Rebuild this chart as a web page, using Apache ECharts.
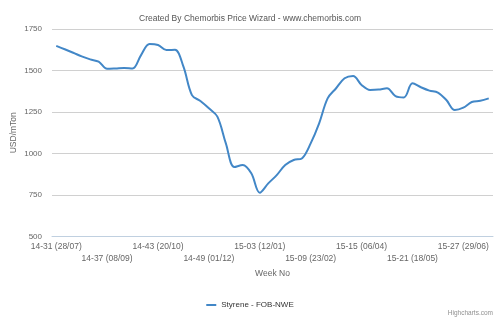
<!DOCTYPE html>
<html>
<head>
<meta charset="utf-8">
<script src="https://cdn.jsdelivr.net/npm/echarts@6/dist/echarts.min.js"></script>
<style>html,body{margin:0;padding:0;background:#fff}#c{width:500px;height:320px}</style>
</head>
<body>
<div id="c"></div>
<script>
const weeks = [
 "14-31 (28/07)","14-32 (04/08)","14-33 (11/08)","14-34 (18/08)","14-35 (25/08)","14-36 (01/09)",
 "14-37 (08/09)","14-38 (15/09)","14-39 (22/09)","14-40 (29/09)","14-41 (06/10)","14-42 (13/10)",
 "14-43 (20/10)","14-44 (27/10)","14-45 (03/11)","14-46 (10/11)","14-47 (17/11)","14-48 (24/11)",
 "14-49 (01/12)","14-50 (08/12)","14-51 (15/12)","14-52 (22/12)","15-01 (29/12)","15-02 (05/01)",
 "15-03 (12/01)","15-04 (19/01)","15-05 (26/01)","15-06 (02/02)","15-07 (09/02)","15-08 (16/02)",
 "15-09 (23/02)","15-10 (02/03)","15-11 (09/03)","15-12 (16/03)","15-13 (23/03)","15-14 (30/03)",
 "15-15 (06/04)","15-16 (13/04)","15-17 (20/04)","15-18 (27/04)","15-19 (04/05)","15-20 (11/05)",
 "15-21 (18/05)","15-22 (25/05)","15-23 (01/06)","15-24 (08/06)","15-25 (15/06)","15-26 (22/06)",
 "15-27 (29/06)","15-28 (06/07)","15-29 (13/07)","15-30 (20/07)"
];
const styreneFobNwe = [
 1648,1628,1607,1585,1567,1553,1510,1512,1515,1512,1593,1660,
 1654,1623,1625,1523,1352,1316,1272,1222,1061,918,931,881,
 764,820,870,931,961,972,1061,1182,1332,1393,1453,1467,
 1413,1383,1385,1393,1346,1338,1423,1399,1379,1367,1322,1262,
 1276,1310,1318,1332
];
const yTicks = [500, 750, 1000, 1250, 1500, 1750];
const seriesName = "Styrene - FOB-NWE";
const titleText = "Created By Chemorbis Price Wizard - www.chemorbis.com";

const FONT = '"Liberation Sans", "DejaVu Sans", sans-serif';
const LINE = '#4287c7';
const chart = echarts.init(document.getElementById('c'), null, {renderer: 'canvas'});
const baseX = {
  type: 'category', data: weeks, boundaryGap: true, position: 'bottom', gridIndex: 0,
  splitLine: {show: false}
};
chart.setOption({
  animation: false,
  title: {
    text: titleText, left: 'center', top: 9,
    textStyle: {fontFamily: FONT, fontSize: 8.5, fontWeight: 'normal', color: '#555'}
  },
  legend: {
    data: [seriesName], bottom: 6, left: 'center',
    icon: 'rect', itemWidth: 10, itemHeight: 2, itemGap: 4,
    textStyle: {fontFamily: FONT, fontSize: 8, color: '#333'}
  },
  graphic: [{
    type: 'text', right: 7, bottom: 3,
    style: {text: 'Highcharts.com', font: '6.5px ' + FONT, fill: '#909090'}
  }],
  grid: {left: 52, right: 7, top: 29, bottom: 83.5, containLabel: false, outerBoundsMode: 'none'},
  xAxis: [
    Object.assign({}, baseX, {
      name: 'Week No', nameLocation: 'middle', nameGap: 33,
      nameTextStyle: {fontFamily: FONT, fontSize: 8.5, color: '#666'},
      axisLine: {lineStyle: {color: '#C0D0E0'}},
      axisTick: {interval: 2, alignWithLabel: true, length: 5, lineStyle: {color: '#C0D0E0'}},
      axisLabel: {
        interval: function (i) { return i % 12 === 0; }, margin: 6,
        fontFamily: FONT, fontSize: 8.5, color: '#666', hideOverlap: false
      }
    }),
    Object.assign({}, baseX, {
      axisLine: {show: false}, axisTick: {show: false},
      axisLabel: {
        interval: function (i) { return i % 12 === 6; }, margin: 18,
        fontFamily: FONT, fontSize: 8.5, color: '#666', hideOverlap: false
      }
    })
  ],
  yAxis: {
    type: 'value', min: yTicks[0], max: yTicks[yTicks.length - 1], interval: 250,
    name: 'USD/mTon', nameLocation: 'middle', nameGap: 34, nameMoveOverlap: false,
    nameTextStyle: {fontFamily: FONT, fontSize: 8.5, color: '#666'},
    axisLine: {show: false}, axisTick: {show: false},
    axisLabel: {fontFamily: FONT, fontSize: 8, color: '#666', margin: 10,
      formatter: function (v) { return String(v); }},
    splitLine: {lineStyle: {color: '#D0D0D0', width: 1}}
  },
  series: [{
    name: seriesName, type: 'line', data: styreneFobNwe, xAxisIndex: 0,
    smooth: 0.35, showSymbol: false, symbol: 'none',
    lineStyle: {color: LINE, width: 2}, itemStyle: {color: LINE}
  }]
});
</script>
</body>
</html>
